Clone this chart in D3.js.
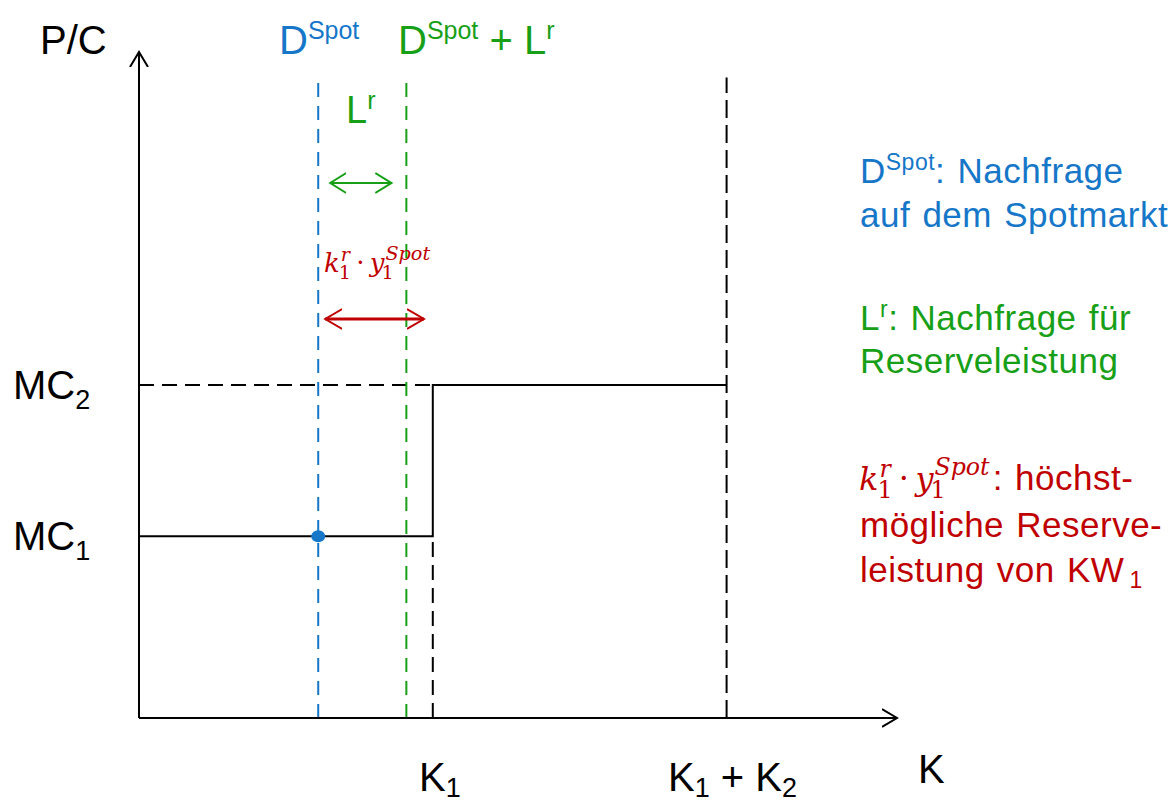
<!DOCTYPE html>
<html>
<head>
<meta charset="utf-8">
<script src="https://cdn.jsdelivr.net/npm/d3@7"></script>
<style>
  html, body { margin: 0; padding: 0; background: #fff; }
  svg { display: block; font-family: "Liberation Sans", Arial, sans-serif; }
</style>
</head>
<body>
<svg id="chart" width="1174" height="804"></svg>
<script>
// Quantities (capacity units) and price levels of the merit-order step function
const capacities = [10, 10];          // K1, K2
const priceLevels = [3, 5.5];         // MC1, MC2
const priceLabels = [["MC", "1"], ["MC", "2"]];
const dSpot = 6.1;                    // spot market demand
const reserveDemand = 3.0;            // L^r
const reserveMax = 3.6;               // k1^r * y1^Spot
const xMax = 25.8, yMax = 11, lineTop = 10.5;

const BLUE = "#1677c9", GREEN = "#17a017", RED = "#c00000", BLACK = "#000";

const svg = d3.select("#chart");
const x = d3.scaleLinear().domain([0, xMax]).range([139, 897]);
const y = d3.scaleLinear().domain([0, yMax]).range([718, 52]);

const k1 = capacities[0], k12 = capacities[0] + capacities[1];
const mc1 = priceLevels[0], mc2 = priceLevels[1];

// open arrowheads
function marker(id, color, len, half) {
  svg.append("defs").append("marker")
    .attr("id", id).attr("markerUnits", "userSpaceOnUse")
    .attr("viewBox", `0 ${-half - 2} ${len + 2} ${2 * half + 4}`)
    .attr("refX", len).attr("refY", 0)
    .attr("markerWidth", len + 2).attr("markerHeight", 2 * half + 4)
    .attr("orient", "auto-start-reverse")
    .append("path").attr("d", `M0,${-half} L${len},0 L0,${half}`)
    .attr("fill", "none").attr("stroke", color).attr("stroke-width", 2);
}
marker("axisHead", BLACK, 15, 9);
marker("greenHead", GREEN, 16, 10);
marker("redHead", RED, 17, 10);

const line = d3.line().x(d => x(d[0])).y(d => y(d[1]));

// dashed guide lines
const guides = [
  { pts: [[0, mc2], [k1, mc2]], color: BLACK, dash: "15,8" },
  { pts: [[k1, 0], [k1, mc1]], color: BLACK, dash: "15,8" },
  { pts: [[k12, 0], [k12, lineTop + 0.08]], color: BLACK, dash: "18,7" },
  { pts: [[dSpot, 0], [dSpot, lineTop]], color: BLUE, dash: "14,9" },
  { pts: [[dSpot + reserveDemand, 0], [dSpot + reserveDemand, lineTop + 0.05]], color: GREEN, dash: "14,9" }
];
svg.selectAll("path.guide").data(guides).join("path")
  .attr("class", "guide")
  .attr("d", d => line(d.pts))
  .attr("fill", "none").attr("stroke", d => d.color)
  .attr("stroke-width", 2).attr("stroke-dasharray", d => d.dash);

// supply step function
svg.append("path")
  .attr("d", line([[0, mc1], [k1, mc1], [k1, mc2], [k12, mc2]]))
  .attr("fill", "none").attr("stroke", BLACK).attr("stroke-width", 2);

// axes
svg.append("path").attr("d", line([[0, 0], [xMax, 0]]))
  .attr("stroke", BLACK).attr("stroke-width", 2).attr("marker-end", "url(#axisHead)");
svg.append("path").attr("d", line([[0, 0], [0, yMax]]))
  .attr("stroke", BLACK).attr("stroke-width", 2).attr("marker-end", "url(#axisHead)");

// spot equilibrium point
svg.append("ellipse").attr("cx", x(dSpot)).attr("cy", y(mc1))
  .attr("rx", 7).attr("ry", 6).attr("fill", BLUE);

// double arrows
svg.append("line")
  .attr("x1", x(dSpot) + 12).attr("x2", x(dSpot + reserveDemand) - 15)
  .attr("y1", 183).attr("y2", 183)
  .attr("stroke", GREEN).attr("stroke-width", 2)
  .attr("marker-start", "url(#greenHead)").attr("marker-end", "url(#greenHead)");
svg.append("line")
  .attr("x1", x(dSpot) + 7).attr("x2", x(dSpot + reserveMax))
  .attr("y1", 319).attr("y2", 319)
  .attr("stroke", RED).attr("stroke-width", 3)
  .attr("marker-start", "url(#redHead)").attr("marker-end", "url(#redHead)");

// text helper: sequence of runs
function runs(xPos, yPos, color, parts, spacing) {
  const t = svg.append("text").attr("x", xPos).attr("y", yPos).attr("fill", color);
  if (spacing) t.attr("letter-spacing", spacing[0]).attr("word-spacing", spacing[1]);
  parts.forEach(p => {
    const s = t.append("tspan").text(p.t).attr("font-size", p.s);
    if (p.dy) s.attr("dy", p.dy);
    if (p.dx) s.attr("dx", p.dx);
  });
  return t;
}

// math term k_1^r · y_1^Spot, returns end x
function mathTerm(xPos, yPos, size, color) {
  const g = svg.append("g").attr("fill", color)
    .style("font-family", "'DejaVu Serif', 'Liberation Serif', serif");
  let cx = xPos;
  const put = (txt, dx, dy, sz, italic) => {
    const el = g.append("text").attr("x", cx + dx).attr("y", yPos + dy)
      .attr("font-size", sz).attr("font-style", italic ? "italic" : "normal").text(txt);
    return el.node().getComputedTextLength();
  };
  const sub = size * 0.74;
  let w = put("k", 0, 0, size, true); cx += w;
  const w1 = put("r", 1, -size * 0.42, sub, true);
  const w2 = put("1", -1, size * 0.26, sub, false);
  cx += Math.max(w1 + 1, w2 - 1) + size * 0.2;
  w = put("·", 0, -size * 0.02, size, false); cx += w + size * 0.2;
  w = put("y", 0, 0, size, true); cx += w;
  const w3 = put("Spot", 1, -size * 0.48, sub, true);
  const w4 = put("1", -3, size * 0.26, sub, false);
  cx += Math.max(w3 + 1, w4 - 3);
  return cx;
}

// axis labels
runs(40, 54, BLACK, [{ t: "P/C", s: 40 }]);
runs(918, 783, BLACK, [{ t: "K", s: 40 }]);
priceLabels.forEach((lab, i) => {
  runs(13, y(priceLevels[i]) + 14, BLACK, [{ t: lab[0], s: 40 }, { t: lab[1], s: 27, dy: 10 }]);
});
runs(419, 791, BLACK, [{ t: "K", s: 40 }, { t: "1", s: 27, dy: 6 }]);
runs(668, 791, BLACK, [{ t: "K", s: 40 }, { t: "1", s: 27, dy: 6 }, { t: " + K", s: 40, dy: -6 }, { t: "2", s: 27, dy: 6 }]);

// curve labels at top
runs(279, 54, BLUE, [{ t: "D", s: 40 }, { t: "Spot", s: 25, dy: -15 }]);
runs(398, 54, GREEN, [{ t: "D", s: 40 }, { t: "Spot", s: 25, dy: -15 }, { t: " + L", s: 40, dy: 15 }, { t: "r", s: 25, dy: -15 }]);
runs(346, 123, GREEN, [{ t: "L", s: 38 }, { t: "r", s: 25, dy: -14 }]);
mathTerm(324, 272, 26, RED);

// explanation block
const LS = 35, SP = [0.5, 2];
runs(860, 183, BLUE, [{ t: "D", s: LS }, { t: "Spot", s: 23, dy: -13 }, { t: ": Nachfrage", s: LS, dy: 13 }], SP);
runs(860, 227, BLUE, [{ t: "auf dem Spotmarkt", s: LS }], SP);
runs(860, 330, GREEN, [{ t: "L", s: LS }, { t: "r", s: 23, dy: -13 }, { t: ": Nachfrage für", s: LS, dy: 13 }], SP);
runs(860, 373, GREEN, [{ t: "Reserveleistung", s: LS }], SP);
const mx = mathTerm(859, 490, 32, RED);
runs(mx + 3, 490, RED, [{ t: ": höchst-", s: LS }], SP);
runs(860, 537, RED, [{ t: "mögliche Reserve-", s: LS }], SP);
runs(860, 582, RED, [{ t: "leistung von KW", s: LS }, { t: "1", s: 23, dx: 5, dy: 6 }], SP);
</script>
</body>
</html>
